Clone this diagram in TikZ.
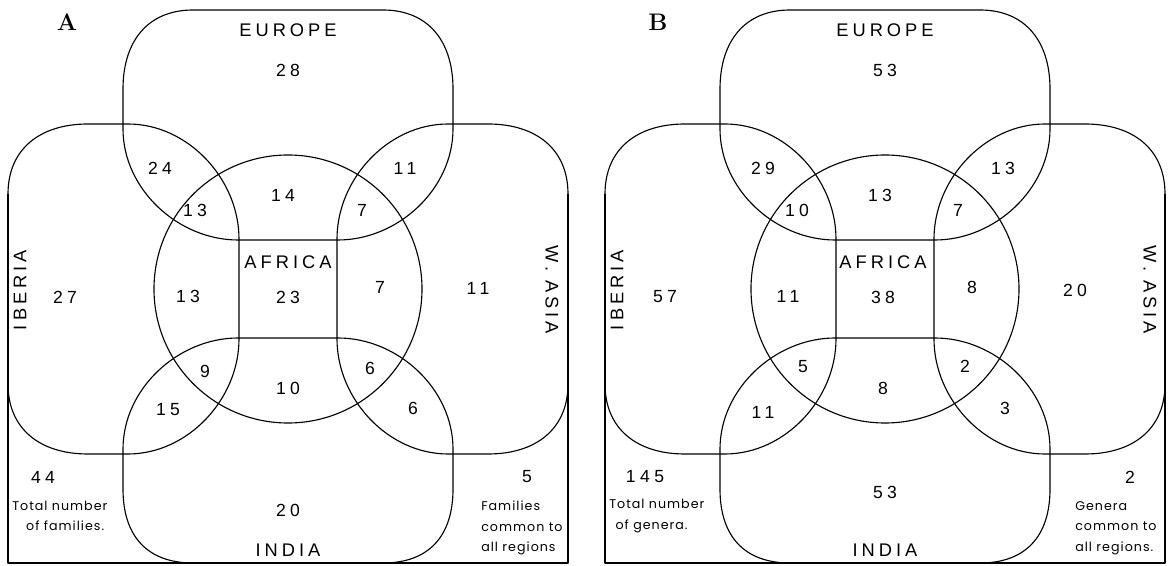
\documentclass[tikz,border=0pt]{standalone}
\usepackage{fontspec}
\newfontfamily\labfont[LetterSpace=22]{Liberation Sans}
\newfontfamily\numfont[LetterSpace=25]{Liberation Sans}
\newfontfamily\notefont[LetterSpace=8]{Poppins}
\tikzset{
  region/.style={draw,line width=.8pt,line join=round},
  area/.style={font=\numfont\fontsize{12.5}{14}\selectfont,inner sep=0pt},
  rname/.style={font=\labfont\fontsize{13}{15}\selectfont,inner sep=0pt},
  note/.style={font=\notefont\fontsize{9}{14.5}\selectfont,align=left,anchor=west,inner sep=0pt},
  tag/.style={font=\bfseries\fontsize{17}{19}\selectfont}
}
% one lobe, outer edge at distance #1 from the centre
\newcommand\lobe[1]{(-50,49) -- (50,49) .. controls (110,49) and (165,100) .. (165,160)
  -- (165,200) .. controls (165,248) and (140,#1) .. (95,#1)
  -- (-95,#1) .. controls (-140,#1) and (-165,248) .. (-165,200)
  -- (-165,160) .. controls (-165,100) and (-110,49) .. (-50,49) -- cycle}
\begin{document}
\begin{tikzpicture}[x=.025cm,y=.025cm]
\useasboundingbox (0,0) rectangle (1172,566);
% lobes, Africa and frame of both panels
\foreach \cx in {288,885}{
  \begin{scope}[shift={(\cx,277)}]
    \foreach \ang/\out in {0/279,90/280,180/274,270/280}
      \draw[region,rotate=\ang] \lobe{\out};
    \draw[region] (0,0) circle (134);
    \draw[region] (-280,95) -- (-280,-274) -- (280,-274) -- (280,95);
  \end{scope}
}
% panel A
\node[tag] (tagA) at (67,544) {A};
\node[rname] (eurA) at (288,536) {EUROPE};
\node[area] (a28) at (288,496) {28};
\node[area] (a24) at (160,398) {24};
\node[area] (a13u) at (195,356) {13};
\node[area] (a14) at (283,371) {14};
\node[area] (a7u) at (362,356) {7};
\node[area] (a11u) at (405,398) {11};
\node[rname,rotate=90] (ibeA) at (20,276) {IBERIA};
\node[area] (a27) at (65,269) {27};
\node[area] (a13m) at (188,270) {13};
\node[rname] (afrA) at (288,304) {AFRICA};
\node[area] (a23) at (288,269) {23};
\node[area] (a7m) at (380,279) {7};
\node[area] (a11m) at (478,278) {11};
\node[rname,rotate=-90] (asiA) at (552,276) {W. ASIA};
\node[area] (a9) at (205,195) {9};
\node[area] (a10) at (288,178) {10};
\node[area] (a6u) at (370,198) {6};
\node[area] (a15) at (168,156) {15};
\node[area] (a6d) at (413,158) {6};
\node[area] (a44) at (43,89) {44};
\node[note] (totA) at (12,50) {Total number\\\hspace*{1.1em}of families.};
\node[area] (a20) at (288,56) {20};
\node[rname] (indA) at (288,16) {INDIA};
\node[area] (a5) at (527,89) {5};
\node[note] (comA) at (481,38) {Families\\common to\\all regions};
% panel B
\node[tag] (tagB) at (658,544) {B};
\node[rname] (eurB) at (885,536) {EUROPE};
\node[area] (b53u) at (885,496) {53};
\node[area] (b29) at (763,398) {29};
\node[area] (b10) at (797,356) {10};
\node[area] (b13m) at (880,371) {13};
\node[area] (b7) at (958,356) {7};
\node[area] (b13u) at (1003,398) {13};
\node[rname,rotate=90] (ibeB) at (617,276) {IBERIA};
\node[area] (b57) at (665,269) {57};
\node[area] (b11m) at (788,270) {11};
\node[rname] (afrB) at (883,304) {AFRICA};
\node[area] (b38) at (883,269) {38};
\node[area] (b8m) at (972,279) {8};
\node[area] (b20) at (1075,276) {20};
\node[rname,rotate=-90] (asiB) at (1150,276) {W. ASIA};
\node[area] (b5) at (803,199) {5};
\node[area] (b8d) at (883,178) {8};
\node[area] (b2u) at (965,200) {2};
\node[area] (b11d) at (763,154) {11};
\node[area] (b3) at (1005,158) {3};
\node[area] (b145) at (645,89) {145};
\node[note] (totB) at (609,50) {Total number\\\hspace*{.5em}of genera.};
\node[area] (b53d) at (885,74) {53};
\node[rname] (indB) at (885,16) {INDIA};
\node[area] (b2d) at (1130,89) {2};
\node[note] (comB) at (1075,38) {Genera\\common to\\all regions.};
\end{tikzpicture}
\end{document}
